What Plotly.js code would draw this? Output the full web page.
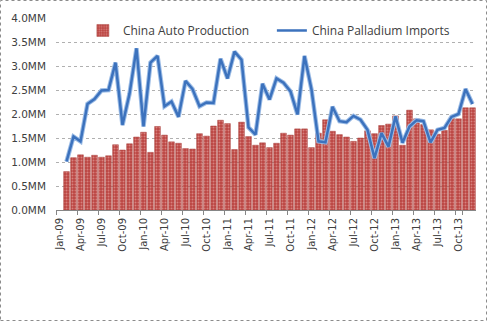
<!DOCTYPE html>
<html>
<head>
<meta charset="utf-8">
<script src="https://cdn.plot.ly/plotly-3.0.1.min.js"></script>
<style>html,body{margin:0;padding:0;background:#fff;}#chart{width:487px;height:321px;}</style>
</head>
<body>
<div id="chart"></div>
<script>
// Category slots (first slot carries the Jan-09 label, data begin in the next slot)
const months = [
  "Jan-09","Feb-09","Mar-09","Apr-09","May-09","Jun-09","Jul-09","Aug-09","Sep-09","Oct-09","Nov-09","Dec-09",
  "Jan-10","Feb-10","Mar-10","Apr-10","May-10","Jun-10","Jul-10","Aug-10","Sep-10","Oct-10","Nov-10","Dec-10",
  "Jan-11","Feb-11","Mar-11","Apr-11","May-11","Jun-11","Jul-11","Aug-11","Sep-11","Oct-11","Nov-11","Dec-11",
  "Jan-12","Feb-12","Mar-12","Apr-12","May-12","Jun-12","Jul-12","Aug-12","Sep-12","Oct-12","Nov-12","Dec-12",
  "Jan-13","Feb-13","Mar-13","Apr-13","May-13","Jun-13","Jul-13","Aug-13","Sep-13","Oct-13","Nov-13","Dec-13"
];
const dataMonths = months.slice(1);

// China Auto Production (MM)
const autoProduction = [
  0.80,1.09,1.15,1.10,1.14,1.10,1.13,1.36,1.25,1.38,
  1.52,1.62,1.20,1.74,1.56,1.42,1.39,1.28,1.27,1.59,
  1.54,1.75,1.87,1.80,1.26,1.83,1.53,1.35,1.40,1.30,
  1.39,1.60,1.56,1.69,1.69,1.30,1.60,1.88,1.64,1.57,
  1.52,1.43,1.50,1.65,1.59,1.76,1.79,1.96,1.35,2.08,
  1.90,1.78,1.67,1.58,1.66,1.91,1.90,2.13,2.13
];

// China Palladium Imports (MM)
const palladiumImports = [
  1.01,1.53,1.43,2.21,2.31,2.49,2.50,3.07,1.77,2.42,
  3.37,1.74,3.07,3.21,2.16,2.26,1.94,2.69,2.52,2.16,
  2.24,2.23,3.15,2.74,3.30,3.13,1.72,1.57,2.63,2.30,
  2.74,2.65,2.47,1.99,3.21,2.51,1.43,1.41,2.15,1.85,
  1.83,1.96,1.88,1.67,1.08,1.60,1.32,1.95,1.40,1.74,
  1.87,1.85,1.41,1.67,1.71,1.94,2.00,2.52,2.21
];

const tickLabels = ["Jan-09","Apr-09","Jul-09","Oct-09","Jan-10","Apr-10","Jul-10","Oct-10",
  "Jan-11","Apr-11","Jul-11","Oct-11","Jan-12","Apr-12","Jul-12","Oct-12",
  "Jan-13","Apr-13","Jul-13","Oct-13"];
const yTicks = [0,0.5,1,1.5,2,2.5,3,3.5,4];
const yTickText = ["0.0MM","0.5MM","1.0MM","1.5MM","2.0MM","2.5MM","3.0MM","3.5MM","4.0MM"];

const L = 56, T = 18, W = 420, H = 192;

const traces = [
  {
    type: "bar", name: "China Auto Production", x: dataMonths, y: autoProduction,
    marker: {color: "#c0504d", line: {color: "#a8403d", width: 0.5},
             pattern: {shape: ".", fgcolor: "#d8817e", bgcolor: "#bb4542", size: 3, solidity: 0.35}},
    hoverinfo: "x+y"
  },
  {
    type: "scatter", mode: "lines", x: dataMonths, y: palladiumImports, showlegend: false,
    line: {color: "#9dbde6", width: 4.5}, hoverinfo: "skip"
  },
  {
    type: "scatter", mode: "lines", name: "China Palladium Imports", x: dataMonths, y: palladiumImports,
    line: {color: "#3c72bd", width: 2.5}
  }
];

const layout = {
  width: 487, height: 321,
  margin: {l: L, r: 487 - L - W, t: T, b: 321 - T - H, pad: 0},
  paper_bgcolor: "#ffffff", plot_bgcolor: "#ffffff",
  bargap: 0.18,
  showlegend: true,
  legend: {orientation: "h", x: 0.064, xanchor: "left", y: 0.935, yanchor: "middle",
           bgcolor: "rgba(0,0,0,0)", font: {family: "'Open Sans', sans-serif", size: 12, color: "#404040"},
           itemwidth: 30, traceorder: "normal", entrywidth: 144, entrywidthmode: "pixels"},
  xaxis: {
    type: "category", categoryorder: "array", categoryarray: months,
    range: [-0.5, 59.5],
    tickvals: tickLabels, ticktext: tickLabels, tickangle: -90,
    tickson: "boundaries", ticklabelstandoff: 3,
    ticks: "outside", ticklen: 4, tickcolor: "#868686",
    showgrid: false, showline: true, linecolor: "#868686", linewidth: 1,
    tickfont: {family: "'DejaVu Sans', sans-serif", size: 10, color: "#404040"},
    fixedrange: true
  },
  yaxis: {
    range: [0, 4], tickvals: yTicks, ticktext: yTickText,
    showgrid: true, gridcolor: "#b0b0b0", griddash: "dot", gridwidth: 1,
    zeroline: false, showline: false, ticks: "", ticklabelstandoff: 9,
    tickfont: {family: "'DejaVu Sans', sans-serif", size: 10.5, color: "#404040"},
    fixedrange: true
  },
  shapes: [{
    type: "rect", xref: "paper", yref: "paper",
    x0: (0.5 - L) / W, x1: (486.5 - L) / W,
    y0: (T + H - 320.5) / H, y1: (T + H - 0.5) / H,
    line: {color: "#8c8c8c", width: 1, dash: "dot"}, fillcolor: "rgba(0,0,0,0)", layer: "above"
  }]
};

Plotly.newPlot("chart", traces, layout, {displayModeBar: false, staticPlot: true});
</script>
</body>
</html>
